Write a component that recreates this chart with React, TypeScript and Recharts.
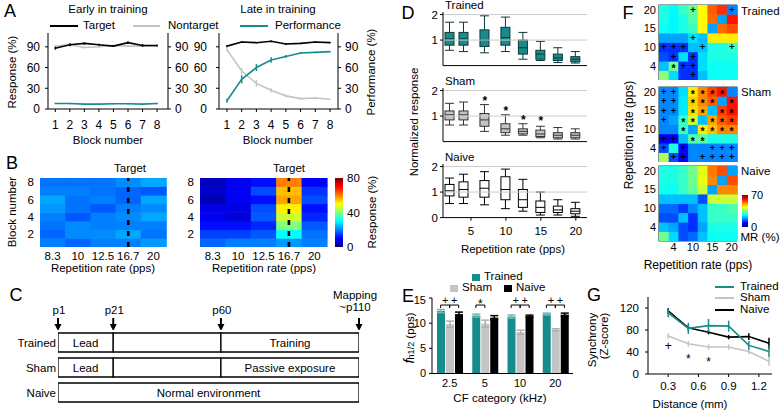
import React from 'react';
import {
  LineChart,
  Line,
  XAxis,
  YAxis,
  ErrorBar,
  BarChart,
  Bar,
  LabelList,
  ReferenceLine,
  ReferenceArea,
  ComposedChart,
  Scatter,
  ScatterChart,
} from 'recharts';

const TEAL = '#188c8c';
const GRAY = '#c4c4c4';
const FONT = '"Liberation Sans", Arial, sans-serif';

// ---------- A: behaviour per training block
const blocks = [1, 2, 3, 4, 5, 6, 7, 8];
const earlyTarget = [88, 93, 95, 93, 91, 96, 92, 92];
const earlyTargetErr = [2, 2, 1.5, 1.5, 1, 2, 2, 1.5];
const earlyNontarget = [91, 93, 89, 90, 92, 91, 91, 91];
const earlyNontargetErr = [1.5, 1.5, 1.5, 1.5, 1, 1, 1, 1];
const earlyPerf = [8, 8, 7, 7, 7.5, 7.5, 7, 8];
const earlyPerfErr = [1, 1, 1, 1, 1, 1, 1, 1];
const lateTarget = [91, 97, 96, 98, 94, 95, 97, 96];
const lateTargetErr = [1.5, 1, 1, 1, 1.5, 1, 1, 1];
const lateNontarget = [86, 55, 37, 27, 19, 15, 16, 14];
const lateNontargetErr = [2, 4, 5, 3, 2, 1.5, 1.5, 1];
const latePerf = [12, 43, 60, 71, 76, 81, 82, 83];
const latePerfErr = [3, 6, 5, 4, 2, 1.5, 1, 1];

// ---------- B: response (%) per block (rows block 8 -> 1) and rate
const bRates = ['8.3', '10', '12.5', '16.7', '20'];
const bTarget = '16.7';
const earlyResp = [
  [19, 19, 19, 21, 23],
  [20, 20, 19, 18, 17],
  [23, 19, 20, 18, 23],
  [22, 19, 17, 20, 21],
  [20, 17, 20, 21, 23],
  [19, 21, 20, 20, 20],
  [18, 21, 21, 23, 19],
  [20, 18, 20, 20, 22],
];
const lateResp = [
  [5, 9, 11, 60, 10],
  [6, 9, 16, 55, 14],
  [4, 9, 11, 57, 16],
  [8, 8, 16, 51, 11],
  [9, 7, 17, 46, 13],
  [11, 11, 13, 40, 17],
  [15, 15, 17, 30, 19],
  [18, 20, 20, 22, 20],
];

// ---------- C: timeline
const cGroups = ['Trained', 'Sham', 'Naive'];
const milestones = [1, 21, 60, 110];
const milestoneLabels = ['p1', 'p21', 'p60', '~p110'];
const trainedPhases = ['Lead', '', 'Training'];
const shamPhases = ['Lead', '', 'Passive exposure'];
const naivePhases = ['Normal environment'];

// ---------- D: normalized response boxes [lo, q1, median, q3, hi]
const dRates = [2, 4, 7, 10, 12.5, 15, 17.5, 20];
const dTrained = [
  [0.6, 0.8, 1.05, 1.3, 1.7],
  [0.55, 0.8, 1.05, 1.3, 1.7],
  [0.5, 0.75, 1.0, 1.4, 1.95],
  [0.55, 0.8, 1.1, 1.5, 1.9],
  [0.25, 0.45, 0.7, 1.0, 1.3],
  [0.2, 0.25, 0.45, 0.6, 0.95],
  [0.12, 0.2, 0.3, 0.45, 0.7],
  [0.1, 0.15, 0.25, 0.35, 0.55],
];
const dSham = [
  [0.65, 0.85, 1.05, 1.2, 1.5],
  [0.65, 0.85, 1.05, 1.2, 1.55],
  [0.4, 0.6, 0.85, 1.1, 1.45],
  [0.25, 0.35, 0.5, 0.7, 1.05],
  [0.25, 0.3, 0.4, 0.5, 0.7],
  [0.15, 0.2, 0.3, 0.45, 0.6],
  [0.1, 0.15, 0.25, 0.35, 0.55],
  [0.1, 0.15, 0.25, 0.35, 0.5],
];
const dNaive = [
  [0.55, 0.85, 1.05, 1.3, 1.55],
  [0.55, 0.8, 1.1, 1.4, 1.7],
  [0.5, 0.8, 1.15, 1.45, 1.8],
  [0.35, 0.7, 1.1, 1.6, 1.9],
  [0.25, 0.4, 0.7, 1.1, 1.5],
  [0.1, 0.2, 0.4, 0.65, 1.0],
  [0.1, 0.2, 0.3, 0.45, 0.7],
  [0.05, 0.15, 0.25, 0.35, 0.6],
];
const dGridLevels = [1, 2];
const dShamStarRates = [7, 10, 12.5, 15];
const dShamStarLevels = [1.73, 1.32, 0.99, 0.93];

// ---------- E: f h1/2 per CF category
const cfCats = ['2.5', '5', '10', '20'];
const eTrained = [12.4, 11.5, 11.3, 11.8];
const eTrainedErr = [0.3, 0.3, 0.3, 0.2];
const eSham = [9.8, 9.9, 8.2, 8.7];
const eShamErr = [0.6, 0.7, 0.4, 0.2];
const eNaive = [11.8, 11.1, 11.4, 11.7];
const eNaiveErr = [0.4, 0.4, 0.2, 0.3];
const eSigTrainedSham = ['+', '*', '+', '+'];
const eSigShamNaive = ['+', '', '+', '+'];
const eBracketLevel = 13.6;

// ---------- F: MR (%) matrices, rows 20 -> 2 pps, cols 2 -> 20 pps
const fRates = ['2', '4', '7', '10', '12.5', '15', '17.5', '20'];
const fTickRates = ['4', '10', '15', '20'];
const fTrained = [
  [28, 26, 30, 33, 44, 55, 58, 18],
  [28, 26, 28, 32, 44, 54, 20, 60],
  [27, 26, 28, 30, 44, 20, 54, 56],
  [20, 20, 20, 24, 22, 45, 45, 45],
  [12, 12, 12, 22, 22, 28, 28, 30],
  [14, 12, 24, 12, 24, 28, 28, 28],
  [22, 34, 12, 12, 24, 27, 27, 27],
  [36, 24, 12, 12, 22, 27, 27, 27],
];
const fTrainedMarks = ['...+...+', '........', '........', '...+....', '+++.+..+', '.+.+....', '.*++....', '...+....'];
const fSham = [
  [18, 18, 24, 45, 52, 57, 60, 18],
  [18, 18, 25, 47, 52, 55, 20, 60],
  [18, 18, 25, 46, 50, 22, 57, 60],
  [18, 20, 30, 40, 22, 50, 55, 57],
  [18, 18, 30, 20, 45, 48, 52, 52],
  [8, 8, 22, 32, 32, 28, 28, 28],
  [14, 28, 9, 18, 18, 18, 18, 18],
  [38, 14, 9, 18, 18, 18, 18, 18],
];
const fShamMarks = ['++.****.', '++.***.*', '++.**.**', '+.**.***', '..*.****', '++.**...', '+.+..+++', '.++.++++'];
const fNaive = [
  [28, 28, 30, 34, 42, 53, 56, 20],
  [28, 28, 30, 34, 42, 52, 20, 56],
  [27, 27, 30, 33, 40, 20, 52, 52],
  [22, 22, 22, 22, 14, 40, 40, 40],
  [16, 16, 13, 18, 22, 30, 30, 32],
  [14, 14, 22, 12, 22, 30, 30, 30],
  [22, 20, 14, 12, 20, 28, 28, 28],
  [34, 24, 14, 16, 22, 27, 27, 27],
];

// ---------- G: synchrony vs distance
const distances = [0.3, 0.5, 0.7, 0.9, 1.1, 1.3];
const gTrained = [111, 83, 88, 87, 52, 41];
const gTrainedErr = [8, 10, 12, 10, 8, 10];
const gSham = [69, 55, 49, 49, 41, 23];
const gShamErr = [5, 5, 5, 5, 5, 8];
const gNaive = [115, 84, 76, 67, 68, 56];
const gNaiveErr = [5, 5, 4, 4, 6, 10];
const gMarkDist = [0.3, 0.5, 0.7];
const gMarkLevel = [50, 33, 28];
const gMarkSym = ['+', '*', '*'];

// MATLAB-like jet colormap
function jet(t: number) {
  const u = Math.max(0, Math.min(1, t));
  const c = (v: number) => Math.round(255 * Math.max(0, Math.min(1, v)));
  return `rgb(${c(1.5 - Math.abs(4 * u - 3))},${c(1.5 - Math.abs(4 * u - 2))},${c(1.5 - Math.abs(4 * u - 1))})`;
}

function Txt({ x, y, children, size = 11.5, anchor = 'middle', rotate = false, style = {} }: any) {
  const tx = anchor === 'middle' ? '-50%' : anchor === 'end' ? '-100%' : '0';
  return (
    <div
      style={{
        position: 'absolute',
        left: x,
        top: y,
        transform: `translate(${tx}, -50%)${rotate ? ' rotate(-90deg)' : ''}`,
        fontSize: size,
        lineHeight: 1,
        whiteSpace: 'nowrap',
        ...style,
      }}
    >
      {children}
    </div>
  );
}

function Seg({ x, y, w, color, h = 2 }: any) {
  return <div style={{ position: 'absolute', left: x, top: y - h / 2, width: w, height: h, background: color }} />;
}

function Swatch({ x, y, color }: any) {
  return <div style={{ position: 'absolute', left: x, top: y - 3.5, width: 8, height: 7, background: color }} />;
}

// text glyph drawn at a scatter point, centred on the point
function glyph(ch: string, size: number, cx: number, cy: number, bold = true) {
  const dy = ch === '*' ? 0.6 * size : 0.33 * size;
  return (
    <text x={cx} y={cy + dy} textAnchor="middle" fontSize={size} fontWeight={bold ? 'bold' : 'normal'} fill="#000">
      {ch}
    </text>
  );
}

// ---------- A panel
function BlockPanel({ rows, left, lw, pw, domain, gap }: any) {
  const tick = { fontSize: 12, fill: '#000' };
  return (
    <div style={{ position: 'absolute', left, top: 25 }}>
      <LineChart width={lw + pw + 32} height={112} data={rows} margin={{ top: 8, right: 0, bottom: 0, left: 0 }}>
        <XAxis type="number" dataKey="block" domain={domain} ticks={blocks} interval={0} height={28} stroke="#000" tick={tick} tickSize={3} tickMargin={8} allowDataOverflow />
        <YAxis yAxisId="resp" width={lw} domain={[0, 110]} ticks={[0, 30, 60, 90]} stroke="#000" tick={tick} tickSize={3} tickMargin={gap} allowDataOverflow />
        <YAxis yAxisId="perf" orientation="right" width={32} domain={[0, 110]} ticks={[0, 30, 60, 90]} stroke="#000" tick={tick} tickSize={3} tickMargin={4} allowDataOverflow />
        <Line yAxisId="resp" dataKey="nontarget" stroke={GRAY} strokeWidth={1.6} dot={false} isAnimationActive={false}>
          <ErrorBar dataKey="nontargetErr" width={0} stroke={GRAY} />
        </Line>
        <Line yAxisId="resp" dataKey="target" stroke="#000" strokeWidth={1.6} dot={false} isAnimationActive={false}>
          <ErrorBar dataKey="targetErr" width={0} stroke="#000" />
        </Line>
        <Line yAxisId="perf" dataKey="perf" stroke={TEAL} strokeWidth={1.6} dot={false} isAnimationActive={false}>
          <ErrorBar dataKey="perfErr" width={0} stroke={TEAL} />
        </Line>
      </LineChart>
    </div>
  );
}

// ---------- heat map grid (B and F)
function HeatGrid({ cols, matrix, marks, vmax, left, top, lw, pw, ph, xh, xLabels, yLabels, fs, yGap, xGap, border, target }: any) {
  const n = matrix.length;
  const mt = 5;
  const data = cols.map((c: string, ci: number) => {
    const o: any = { col: c, ci };
    for (let k = 0; k < n; k++) o['r' + k] = 1;
    return o;
  });
  const yTicks = [1.5, 3.5, 5.5, 7.5];
  const tick = { fontSize: fs, fill: '#000' };
  const cell = (k: number) => (p: any) => {
    const row = n - 1 - k;
    const ci = p.payload.ci;
    const color = jet(matrix[row][ci] / vmax);
    const m = marks ? marks[row][ci] : '.';
    const band = pw / cols.length;
    return (
      <g>
        <rect x={p.x} y={p.y - 0.3} width={p.width + 1} height={p.height + 0.6} fill={color} />
        {m !== '.' && glyph(m, m === '*' ? 10.5 : 9.5, p.x + band / 2, p.y + p.height / 2)}
      </g>
    );
  };
  const height = mt + ph + (xLabels ? xh : 0);
  return (
    <div style={{ position: 'absolute', left: left - lw, top: top - mt }}>
      <BarChart width={lw + pw + 2} height={height} data={data} margin={{ top: mt, right: 2, bottom: 0, left: 0 }} barCategoryGap={0}>
        <XAxis
          dataKey="col"
          hide={!xLabels}
          height={xh}
          interval={0}
          axisLine={false}
          tickLine={false}
          tickSize={0}
          tickMargin={xGap}
          tick={tick}
          tickFormatter={(v: string) => (xLabels && xLabels.includes(v) ? v : '')}
        />
        <YAxis
          type="number"
          domain={[0, n]}
          ticks={yTicks}
          interval={0}
          width={lw}
          axisLine={false}
          tickLine={false}
          tickSize={0}
          tickMargin={yGap}
          tick={tick}
          allowDataOverflow
          tickFormatter={(v: number) => yLabels[yTicks.indexOf(v)]}
        />
        {Array.from({ length: n }, (_, k) => (
          <Bar key={k} dataKey={'r' + k} stackId="m" shape={cell(k)} isAnimationActive={false} />
        ))}
        {target && <ReferenceLine x={target} stroke="#000" strokeWidth={2.6} strokeDasharray="5 6" />}
        {border && <ReferenceArea y1={0} y2={n} fill="none" stroke={border} strokeWidth={1.2} />}
      </BarChart>
    </div>
  );
}

function ColorBar({ id, left, top, pw, ph, vmax, ticks, fs, gap }: any) {
  const stops = [0, 0.125, 0.25, 0.375, 0.5, 0.625, 0.75, 0.875, 1];
  const mt = 6;
  return (
    <div style={{ position: 'absolute', left, top: top - mt }}>
      <BarChart width={pw + 30} height={ph + 2 * mt} data={[{ k: 'c', v: vmax }]} margin={{ top: mt, right: 0, bottom: mt, left: 0 }} barCategoryGap={0}>
        <defs>
          <linearGradient id={id} x1="0" y1="1" x2="0" y2="0">
            {stops.map((s) => (
              <stop key={s} offset={s} stopColor={jet(s)} />
            ))}
          </linearGradient>
        </defs>
        <XAxis dataKey="k" hide />
        <YAxis orientation="right" width={30} domain={[0, vmax]} ticks={ticks} axisLine={false} tickLine={false} tickSize={0} tickMargin={gap} tick={{ fontSize: fs, fill: '#000' }} />
        <Bar dataKey="v" fill={`url(#${id})`} isAnimationActive={false} />
      </BarChart>
    </div>
  );
}

// ---------- C panel
function Timeline() {
  const phaseLen = milestones.slice(1).map((d, i) => d - milestones[i]);
  const rows = [
    { group: cGroups[0], a: phaseLen[0], b: phaseLen[1], c: phaseLen[2], la: trainedPhases[0], lc: trainedPhases[2] },
    { group: cGroups[1], a: phaseLen[0], b: phaseLen[1], c: phaseLen[2], la: shamPhases[0], lc: shamPhases[2] },
    { group: cGroups[2], a: milestones[3] - milestones[0], b: 0, c: 0, la: naivePhases[0], lc: '' },
  ];
  const seg = { fill: '#fff', stroke: '#000', strokeWidth: 1.3, isAnimationActive: false };
  const lab = { position: 'center' as const, fill: '#000', fontSize: 11.5 };
  return (
    <div style={{ position: 'absolute', left: 0, top: 330 }}>
      <BarChart layout="vertical" width={58 + 301 + 3} height={75} data={rows} margin={{ top: 0, right: 3, bottom: 0, left: 0 }} barSize={19}>
        <XAxis type="number" domain={[0, milestones[3] - milestones[0]]} hide allowDataOverflow />
        <YAxis type="category" dataKey="group" width={58} axisLine={false} tickLine={false} tickSize={0} tickMargin={2} tick={{ fontSize: 11.5, fill: '#000' }} />
        <Bar dataKey="a" stackId="t" {...seg}>
          <LabelList dataKey="la" {...lab} />
        </Bar>
        <Bar dataKey="b" stackId="t" {...seg} />
        <Bar dataKey="c" stackId="t" {...seg}>
          <LabelList dataKey="lc" {...lab} />
        </Bar>
      </BarChart>
    </div>
  );
}

function Milestones() {
  const data = milestones.map((d, i) => ({ day: d, y: 0, label: milestoneLabels[i], last: i === milestones.length - 1 }));
  const arrow = (p: any) => {
    const { cx, cy, payload } = p;
    const sx = payload.last ? cx - 4 : cx + 1;
    return (
      <g>
        <line x1={cx} x2={cx} y1={cy - 12} y2={cy - 5} stroke="#000" strokeWidth={2} />
        <path d={`M${cx - 3.5},${cy - 6}L${cx + 3.5},${cy - 6}L${cx},${cy + 1}Z`} fill="#000" />
        <text x={sx} y={payload.last ? cy - 19 : cy - 16} textAnchor="middle" fontSize={11.5} fill="#000">
          {payload.label}
        </text>
        {payload.last && (
          <text x={sx} y={cy - 31} textAnchor="middle" fontSize={11.5} fill="#000">
            Mapping
          </text>
        )}
      </g>
    );
  };
  return (
    <div style={{ position: 'absolute', left: 38, top: 280 }}>
      <ScatterChart width={20 + 301 + 30} height={50} margin={{ top: 0, right: 30, bottom: 0, left: 20 }}>
        <XAxis type="number" dataKey="day" domain={[1, 110]} hide />
        <YAxis type="number" dataKey="y" domain={[0, 1]} hide />
        <Scatter data={data} shape={arrow} isAnimationActive={false} />
      </ScatterChart>
    </div>
  );
}

// ---------- D panel
function boxShape(fill: string, stroke: string) {
  return (p: any) => {
    const { x, y, width, height, payload } = p;
    const top = Math.min(y, y + height);
    const h = Math.abs(height);
    const py = (v: number) => top + (h * (payload.hi - v)) / (payload.hi - payload.lo);
    const cx = x + width / 2;
    return (
      <g stroke={stroke} strokeWidth={1}>
        <line x1={cx} x2={cx} y1={py(payload.hi)} y2={py(payload.q3)} />
        <line x1={cx} x2={cx} y1={py(payload.q1)} y2={py(payload.lo)} />
        <line x1={x} x2={x + width} y1={py(payload.hi)} y2={py(payload.hi)} />
        <line x1={x} x2={x + width} y1={py(payload.lo)} y2={py(payload.lo)} />
        <rect x={x} y={py(payload.q3)} width={width} height={py(payload.q1) - py(payload.q3)} fill={fill} />
        <line x1={x} x2={x + width} y1={py(payload.med)} y2={py(payload.med)} />
      </g>
    );
  };
}

function BoxPanel({ boxes, plotTop, fill, stroke, stars, showX }: any) {
  const rows = dRates.map((r, i) => ({ rate: r, lo: boxes[i][0], q1: boxes[i][1], med: boxes[i][2], q3: boxes[i][3], hi: boxes[i][4] }));
  const xh = showX ? 24 : 1;
  const ph = 53.6;
  const tick = { fontSize: 11.5, fill: '#000' };
  return (
    <div style={{ position: 'absolute', left: 423, top: plotTop - 4 }}>
      <ComposedChart width={20 + 144 + 3} height={4 + ph + xh} data={rows} margin={{ top: 4, right: 3, bottom: 0, left: 0 }}>
        <XAxis type="number" dataKey="rate" domain={[1, 21.6]} ticks={[5, 10, 15, 20]} interval={0} height={xh} stroke="#000" tick={showX ? tick : false} tickSize={3} tickMargin={6} allowDataOverflow />
        <YAxis domain={[0, 2.1]} ticks={[0, 1, 2]} width={20} stroke="#000" tick={tick} tickSize={3} tickMargin={2} allowDataOverflow />
        {dGridLevels.map((g) => (
          <ReferenceLine key={g} y={g} stroke="#cccccc" strokeWidth={1} />
        ))}
        <Bar dataKey={(d: any) => [d.lo, d.hi]} barSize={9} shape={boxShape(fill, stroke)} isAnimationActive={false} />
        {stars && <Scatter data={stars} dataKey="y" shape={(p: any) => glyph('*', 12, p.cx, p.cy)} isAnimationActive={false} />}
      </ComposedChart>
    </div>
  );
}

// ---------- E panel
function CfBars() {
  const rows = cfCats.map((c, i) => ({
    cf: c,
    t: eTrained[i],
    tE: eTrainedErr[i],
    s: eSham[i],
    sE: eShamErr[i],
    n: eNaive[i],
    nE: eNaiveErr[i],
    level: eBracketLevel,
    left: eSigTrainedSham[i],
    right: eSigShamNaive[i],
  }));
  const step = 9; // bar width + gap
  const bracket = (p: any) => {
    const { cx, cy, payload } = p;
    const one = (x1: number, x2: number, m: string) => (
      <g>
        <path d={`M${x1},${cy + 3}V${cy}H${x2}V${cy + 3}`} fill="none" stroke="#000" strokeWidth={1} />
        <text x={(x1 + x2) / 2} y={m === '*' ? cy + 2.5 : cy - 1} textAnchor="middle" fontSize={m === '*' ? 12 : 11} fill="#000">
          {m}
        </text>
      </g>
    );
    return (
      <g>
        {payload.left && one(cx - step, cx, payload.left)}
        {payload.right && one(cx, cx + step, payload.right)}
      </g>
    );
  };
  const tick = { fontSize: 11, fill: '#000' };
  return (
    <div style={{ position: 'absolute', left: 408, top: 294 }}>
      <ComposedChart width={24 + 141 + 2} height={4 + 75.5 + 22} data={rows} margin={{ top: 4, right: 2, bottom: 0, left: 0 }} barGap={1}>
        <XAxis dataKey="cf" height={22} stroke="#000" tickLine={false} tickSize={0} tickMargin={6} tick={tick} />
        <YAxis width={24} domain={[0, 15]} ticks={[0, 5, 10, 15]} stroke="#000" tick={tick} tickSize={3} tickMargin={3} />
        <Bar dataKey="t" fill={TEAL} barSize={8} isAnimationActive={false}>
          <ErrorBar dataKey="tE" width={4} stroke="#6fb9b9" />
        </Bar>
        <Bar dataKey="s" fill={GRAY} barSize={8} isAnimationActive={false}>
          <ErrorBar dataKey="sE" width={4} stroke="#b0b0b0" />
        </Bar>
        <Bar dataKey="n" fill="#000" barSize={8} isAnimationActive={false}>
          <ErrorBar dataKey="nE" width={4} stroke="#000" />
        </Bar>
        <Scatter dataKey="level" shape={bracket} isAnimationActive={false} />
      </ComposedChart>
    </div>
  );
}

// ---------- G panel
function SyncLines() {
  const rows = distances.map((d, i) => ({
    dist: d,
    trained: gTrained[i],
    trainedE: gTrainedErr[i],
    sham: gSham[i],
    shamE: gShamErr[i],
    naive: gNaive[i],
    naiveE: gNaiveErr[i],
  }));
  const marks = gMarkDist.map((d, i) => ({ dist: d, y: gMarkLevel[i], m: gMarkSym[i] }));
  const tick = { fontSize: 11.5, fill: '#000' };
  return (
    <div style={{ position: 'absolute', left: 614, top: 293 }}>
      <ComposedChart width={34 + 124 + 4} height={4 + 77 + 24} data={rows} margin={{ top: 4, right: 4, bottom: 0, left: 0 }}>
        <XAxis type="number" dataKey="dist" domain={[0.1, 1.33]} ticks={[0.3, 0.6, 0.9, 1.2]} interval={0} height={24} stroke="#000" tick={tick} tickSize={3} tickMargin={5} allowDataOverflow />
        <YAxis width={34} domain={[0, 140]} ticks={[0, 40, 80, 120]} stroke="#000" tick={tick} tickSize={3} tickMargin={6} allowDataOverflow />
        <Line dataKey="sham" stroke={GRAY} strokeWidth={1.6} dot={false} isAnimationActive={false}>
          <ErrorBar dataKey="shamE" width={0} stroke={GRAY} />
        </Line>
        <Line dataKey="naive" stroke="#000" strokeWidth={1.6} dot={false} isAnimationActive={false}>
          <ErrorBar dataKey="naiveE" width={0} stroke="#000" />
        </Line>
        <Line dataKey="trained" stroke={TEAL} strokeWidth={1.6} dot={false} isAnimationActive={false}>
          <ErrorBar dataKey="trainedE" width={0} stroke={TEAL} />
        </Line>
        <Scatter data={marks} dataKey="y" shape={(p: any) => glyph(p.payload.m, 12, p.cx, p.cy, false)} isAnimationActive={false} />
      </ComposedChart>
    </div>
  );
}

export default function App() {
  const earlyRows = blocks.map((b, i) => ({
    block: b,
    target: earlyTarget[i],
    targetErr: earlyTargetErr[i],
    nontarget: earlyNontarget[i],
    nontargetErr: earlyNontargetErr[i],
    perf: earlyPerf[i],
    perfErr: earlyPerfErr[i],
  }));
  const lateRows = blocks.map((b, i) => ({
    block: b,
    target: lateTarget[i],
    targetErr: lateTargetErr[i],
    nontarget: lateNontarget[i],
    nontargetErr: lateNontargetErr[i],
    perf: latePerf[i],
    perfErr: latePerfErr[i],
  }));
  const blockLabels = [1, 3, 5, 7].map((i) => String(blocks[i]));
  const fRowLabels = [1, 3, 5, 7].map((i) => fRates[i]);
  const stars = dShamStarRates.map((r, i) => ({ rate: r, y: dShamStarLevels[i] }));

  return (
    <div style={{ position: 'absolute', left: 0, top: 0, width: 782, height: 418, background: '#fff', fontFamily: FONT, color: '#000', overflow: 'hidden' }}>
      {/* A */}
      <Txt x={10} y={11} size={18}>A</Txt>
      <Txt x={108} y={10}>Early in training</Txt>
      <Txt x={278} y={10}>Late in training</Txt>
      <Seg x={50} y={26} w={28} color="#000" />
      <Txt x={83} y={26} anchor="start">Target</Txt>
      <Seg x={133} y={26} w={27} color={GRAY} />
      <Txt x={168} y={26} anchor="start">Nontarget</Txt>
      <Seg x={240} y={26} w={28} color={TEAL} />
      <Txt x={275} y={26} anchor="start">Performance</Txt>
      <Txt x={13} y={72} rotate>Response (%)</Txt>
      <Txt x={372} y={72} rotate>Performance (%)</Txt>
      <BlockPanel rows={earlyRows} left={0} lw={48} pw={120} domain={[0.5, 8.75]} gap={5} />
      <BlockPanel rows={lateRows} left={179} lw={40} pw={119} domain={[0.46, 8.54]} gap={9} />
      <Txt x={108} y={141}>Block number</Txt>
      <Txt x={278} y={141}>Block number</Txt>

      {/* B */}
      <Txt x={12} y={163} size={18}>B</Txt>
      <Txt x={130} y={169}>Target</Txt>
      <Txt x={289} y={169}>Target</Txt>
      <Txt x={13} y={212} rotate>Block number</Txt>
      <HeatGrid cols={bRates} matrix={earlyResp} vmax={80} left={40} top={178} lw={40} pw={126} ph={69} xh={20} xLabels={bRates} yLabels={blockLabels} fs={11.5} yGap={6} xGap={5} target={bTarget} />
      <HeatGrid cols={bRates} matrix={lateResp} vmax={80} left={200} top={178} lw={40} pw={127} ph={69} xh={20} xLabels={bRates} yLabels={blockLabels} fs={11.5} yGap={6} xGap={5} target={bTarget} />
      <ColorBar id="jetB" left={335} top={178} pw={8} ph={69} vmax={80} ticks={[0, 40, 80]} fs={11.5} gap={4} />
      <Txt x={373} y={212} rotate>Response (%)</Txt>
      <Txt x={103} y={269}>Repetition rate (pps)</Txt>
      <Txt x={264} y={269}>Repetition rate (pps)</Txt>

      {/* C */}
      <Txt x={16} y={295} size={18}>C</Txt>
      <Milestones />
      <Timeline />

      {/* D */}
      <Txt x={408} y={13} size={18}>D</Txt>
      <Txt x={445} y={6} anchor="start">Trained</Txt>
      <Txt x={445} y={82} anchor="start">Sham</Txt>
      <Txt x={445} y={158} anchor="start">Naive</Txt>
      <Txt x={415} y={122} rotate>Normalized response</Txt>
      <BoxPanel boxes={dTrained} plotTop={12.4} fill={TEAL} stroke="#0f3535" />
      <BoxPanel boxes={dSham} plotTop={88.4} fill={GRAY} stroke="#333" stars={stars} />
      <BoxPanel boxes={dNaive} plotTop={164.4} fill="#fff" stroke="#000" showX />
      <Txt x={513} y={250}>Repetition rate (pps)</Txt>

      {/* E */}
      <Txt x={408} y={296} size={18}>E</Txt>
      <Swatch x={472} y={277} color={TEAL} />
      <Txt x={484} y={277} anchor="start">Trained</Txt>
      <Swatch x={450} y={288} color={GRAY} />
      <Txt x={462} y={288} anchor="start">Sham</Txt>
      <Swatch x={504} y={288} color="#000" />
      <Txt x={516} y={288} anchor="start">Naive</Txt>
      <Txt x={409} y={338} rotate>
        <span style={{ fontStyle: 'italic', fontSize: 15 }}>f</span>
        <span style={{ fontSize: 9 }}>h1/2</span> (pps)
      </Txt>
      <CfBars />
      <Txt x={500} y={399}>CF category (kHz)</Txt>

      {/* F */}
      <Txt x={628} y={13} size={18}>F</Txt>
      <Txt x={741} y={12} anchor="start">Trained</Txt>
      <Txt x={741} y={93} anchor="start">Sham</Txt>
      <Txt x={741} y={172} anchor="start">Naive</Txt>
      <Txt x={629} y={135} rotate size={12}>Repetition rate (pps)</Txt>
      <HeatGrid cols={fRates} matrix={fTrained} marks={fTrainedMarks} vmax={70} left={658.5} top={5} lw={20} pw={77.5} ph={75} xh={16} yLabels={fRowLabels} fs={11} yGap={3} xGap={2} border="#2e4f4f" />
      <HeatGrid cols={fRates} matrix={fSham} marks={fShamMarks} vmax={70} left={658.5} top={87} lw={20} pw={77.5} ph={75} xh={16} yLabels={fRowLabels} fs={11} yGap={3} xGap={2} border="#2e4f4f" />
      <HeatGrid cols={fRates} matrix={fNaive} vmax={70} left={658.5} top={166} lw={20} pw={77.5} ph={75} xh={16} xLabels={fTickRates} yLabels={fRowLabels} fs={11} yGap={3} xGap={2} border="#2e4f4f" />
      <ColorBar id="jetF" left={742} top={195} pw={6} ph={32} vmax={70} ticks={[0, 70]} fs={11} gap={3} />
      <Txt x={760} y={238}>MR (%)</Txt>
      <Txt x={698} y={265} size={12}>Repetition rate (pps)</Txt>

      {/* G */}
      <Txt x={594} y={295} size={18}>G</Txt>
      <Seg x={715} y={287} w={19} color={TEAL} />
      <Txt x={740} y={287} anchor="start">Trained</Txt>
      <Seg x={715} y={298} w={19} color={GRAY} />
      <Txt x={740} y={298} anchor="start">Sham</Txt>
      <Seg x={715} y={310} w={19} color="#000" />
      <Txt x={740} y={310} anchor="start">Naive</Txt>
      <Txt x={593} y={340} rotate>Synchrony</Txt>
      <Txt x={605} y={336} rotate>(Z-score)</Txt>
      <SyncLines />
      <Txt x={690} y={405}>Distance (mm)</Txt>
    </div>
  );
}
